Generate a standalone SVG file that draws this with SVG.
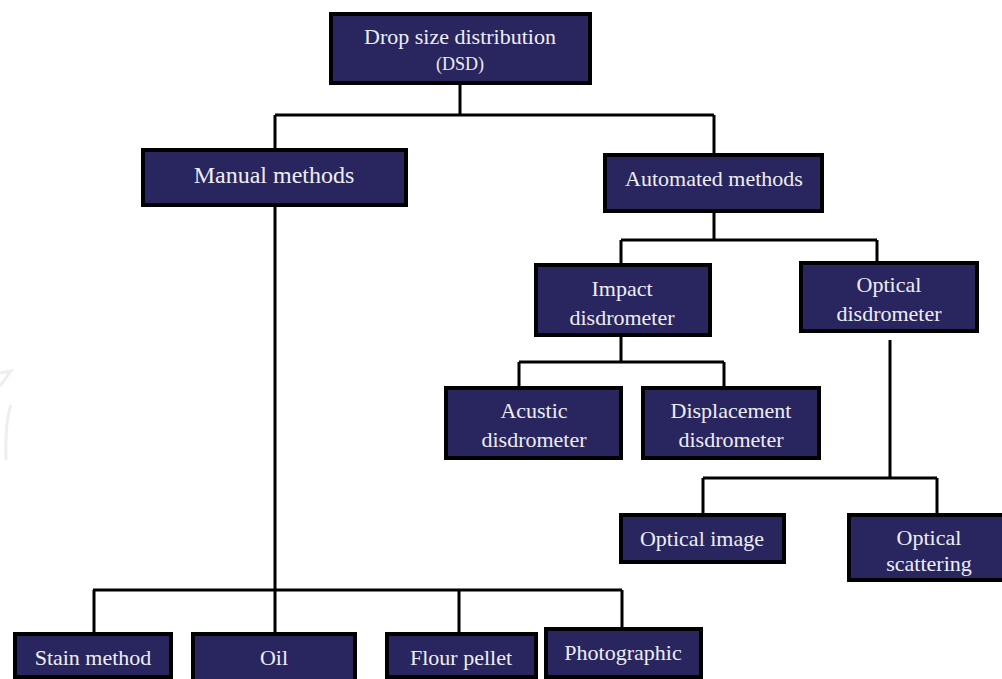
<svg xmlns="http://www.w3.org/2000/svg" width="1002" height="679" viewBox="0 0 1002 679">
<style>
.box{fill:#29255e;stroke:#000;stroke-width:4}
text{font-family:"Liberation Serif","Times New Roman",serif;font-size:22px;fill:#eeeef4;text-anchor:middle}
.c{fill:none;stroke:#000;stroke-width:3}
.w{fill:none;stroke:#eeeeee;stroke-width:3}
</style>
<rect width="1002" height="679" fill="#fff"/>
<path class="w" d="M0 373L11 371L0 386M11 405Q5 420 6 460"/>
<g id="connectors">
<path class="c" d="M460 84V115M275 115H714M275 115V150M714 115V155"/>
<path class="c" d="M714 212V240M621 240H877M621 240V265M877 240V262"/>
<path class="c" d="M621 336V362M519 362H724M519 362V388M724 362V388"/>
<path class="c" d="M890 340V478M703 478H937M703 478V515M937 478V515"/>
<path class="c" d="M275 206V590M93 590H622M94 590V634M275 590V634M459 590V634M622 590V628"/>
</g>
<g id="n-dsd"><rect class="box" x="331" y="14" width="259" height="69"/><text x="460" y="44">Drop size distribution</text><text style="font-size:18px" x="460" y="70">(DSD)</text></g>
<g id="n-manual"><rect class="box" x="143" y="150" width="263" height="55"/><text style="font-size:24px" x="274" y="183">Manual methods</text></g>
<g id="n-auto"><rect class="box" x="605" y="155" width="217" height="56"/><text x="714" y="186">Automated methods</text></g>
<g id="n-impact"><rect class="box" x="536" y="265" width="174" height="70"/><text x="622" y="296">Impact</text><text x="622" y="325">disdrometer</text></g>
<g id="n-optical"><rect class="box" x="801" y="263" width="176" height="68"/><text x="889" y="292">Optical</text><text x="889" y="321">disdrometer</text></g>
<g id="n-acustic"><rect class="box" x="446" y="388" width="175" height="70"/><text x="534" y="418">Acustic</text><text x="534" y="447">disdrometer</text></g>
<g id="n-displacement"><rect class="box" x="643" y="388" width="176" height="70"/><text x="731" y="418">Displacement</text><text x="731" y="447">disdrometer</text></g>
<g id="n-opimage"><rect class="box" x="621" y="515" width="163" height="47"/><text x="702" y="546">Optical image</text></g>
<g id="n-opscatter"><rect class="box" x="849" y="515" width="160" height="65"/><text x="929" y="545">Optical</text><text x="929" y="571">scattering</text></g>
<g id="n-stain"><rect class="box" x="15" y="634" width="156" height="43"/><text x="93" y="665">Stain method</text></g>
<g id="n-oil"><rect class="box" x="193" y="634" width="162" height="50"/><text x="274" y="665">Oil</text></g>
<g id="n-flour"><rect class="box" x="387" y="634" width="149" height="43"/><text x="461" y="665">Flour pellet</text></g>
<g id="n-photo"><rect class="box" x="546" y="629" width="155" height="48"/><text x="623" y="660">Photographic</text></g>
</svg>
